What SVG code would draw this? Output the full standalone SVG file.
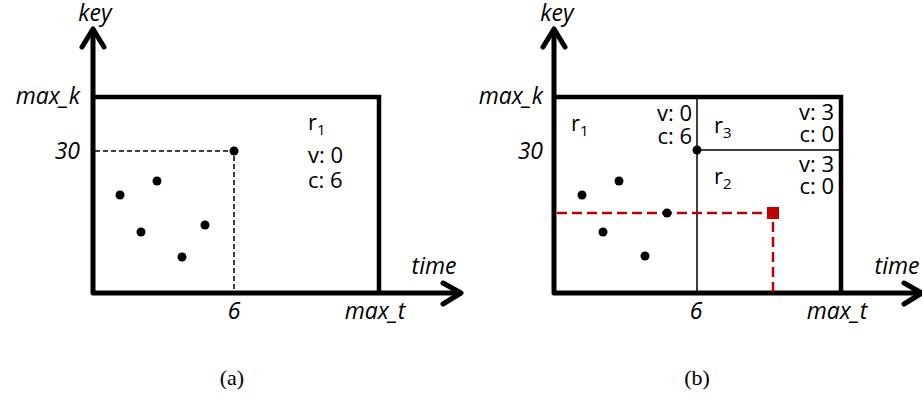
<svg xmlns="http://www.w3.org/2000/svg" width="922" height="398" viewBox="0 0 922 398">
<style>
.ax{fill:none;stroke:#000;stroke-width:5;stroke-linecap:round;stroke-linejoin:round}
.box{fill:none;stroke:#000;stroke-width:4.5;stroke-linejoin:miter}
.thin{stroke:#000;stroke-width:1.5;fill:none}
.dash{stroke:#000;stroke-width:1.5;stroke-dasharray:5 3;fill:none}
.rdash{stroke:#C00000;stroke-width:2.5;stroke-dasharray:10 5;fill:none}
.t{font-family:"Open Sans","Liberation Sans",sans-serif;font-size:22px;fill:#000}
.i{font-style:italic;font-size:23px}
.cap{font-family:"Liberation Serif",serif;font-size:22px;fill:#000}
.dot{fill:#000}
</style>
<g id="panel-a">
  <g id="a-axes">
    <path class="ax" d="M93,30 V293 H460"/>
    <polyline class="ax" points="82,47 93,29 104,47"/>
    <polyline class="ax" points="443,283 461,293 443,304"/>
  </g>
  <g id="a-box"><path class="box" d="M93,97 H379 V293"/></g>
  <g id="a-guides">
    <path class="dash" d="M95,151 H234 V293"/>
  </g>
  <g id="a-points">
    <circle class="dot" cx="234" cy="151" r="4.5"/>
    <circle class="dot" cx="120" cy="195" r="4.5"/>
    <circle class="dot" cx="157" cy="181" r="4.5"/>
    <circle class="dot" cx="141" cy="232" r="4.5"/>
    <circle class="dot" cx="205" cy="225" r="4.5"/>
    <circle class="dot" cx="182" cy="257" r="4.5"/>
  </g>
  <g id="a-labels">
    <text class="t i" x="95" y="21" text-anchor="middle">key</text>
    <text class="t i" x="80" y="104" text-anchor="end">max_k</text>
    <text class="t i" x="80" y="159" text-anchor="end">30</text>
    <text class="t i" x="234" y="319" text-anchor="middle">6</text>
    <text class="t i" x="375" y="319" text-anchor="middle">max_t</text>
    <text class="t i" x="434" y="274" text-anchor="middle">time</text>
    <text class="t" x="308" y="130">r<tspan font-size="15" dy="5">1</tspan></text>
    <text class="t" x="308" y="163">v: 0</text>
    <text class="t" x="308" y="188">c: 6</text>
  </g>
  <text class="cap" x="232" y="385" text-anchor="middle">(a)</text>
</g>
<g id="panel-b">
  <g id="b-axes">
    <path class="ax" d="M554,30 V293 H921"/>
    <polyline class="ax" points="543,47 554,29 565,47"/>
    <polyline class="ax" points="904,283 922,293 904,304"/>
  </g>
  <g id="b-box"><path class="box" d="M554,97 H841 V293"/></g>
  <g id="b-splits">
    <path class="thin" d="M697,97 V293"/>
    <path class="thin" d="M697,150 H841"/>
    <circle class="dot" cx="697" cy="150" r="4.5"/>
  </g>
  <g id="b-query">
    <path class="rdash" d="M557,213 H773 V293"/>
    <rect x="767" y="207" width="12" height="12" fill="#C00000"/>
  </g>
  <g id="b-points">
    <circle class="dot" cx="582" cy="195" r="4.5"/>
    <circle class="dot" cx="619" cy="181" r="4.5"/>
    <circle class="dot" cx="603" cy="232" r="4.5"/>
    <circle class="dot" cx="667" cy="213" r="4.5"/>
    <circle class="dot" cx="645" cy="256" r="4.5"/>
  </g>
  <g id="b-labels">
    <text class="t i" x="557" y="21" text-anchor="middle">key</text>
    <text class="t i" x="543" y="104" text-anchor="end">max_k</text>
    <text class="t i" x="543" y="159" text-anchor="end">30</text>
    <text class="t i" x="696" y="319" text-anchor="middle">6</text>
    <text class="t i" x="837" y="319" text-anchor="middle">max_t</text>
    <text class="t i" x="897" y="274" text-anchor="middle">time</text>
    <text class="t" x="571" y="131">r<tspan font-size="15" dy="5">1</tspan></text>
    <text class="t" x="692" y="121" text-anchor="end">v: 0</text>
    <text class="t" x="692" y="144" text-anchor="end">c: 6</text>
    <text class="t" x="714" y="133">r<tspan font-size="15" dy="5">3</tspan></text>
    <text class="t" x="834" y="120" text-anchor="end">v: 3</text>
    <text class="t" x="834" y="142" text-anchor="end">c: 0</text>
    <text class="t" x="714" y="184">r<tspan font-size="15" dy="5">2</tspan></text>
    <text class="t" x="834" y="172" text-anchor="end">v: 3</text>
    <text class="t" x="834" y="194" text-anchor="end">c: 0</text>
  </g>
  <text class="cap" x="697" y="385" text-anchor="middle">(b)</text>
</g>
</svg>
